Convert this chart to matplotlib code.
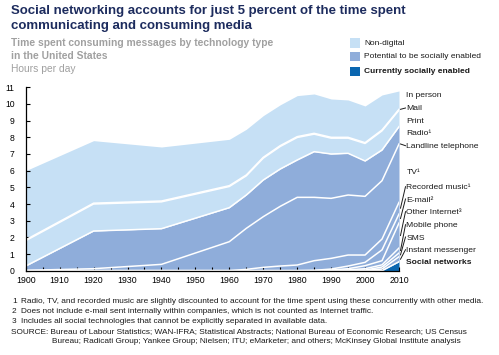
import numpy as np
import matplotlib.pyplot as plt
from matplotlib.patches import Rectangle

plt.rcParams['font.family'] = ['Liberation Sans', 'DejaVu Sans']

# === DATA (hours per day) ===
years = [1900, 1920, 1940, 1960, 1965, 1970, 1975, 1980, 1985, 1990, 1995, 2000, 2005, 2010]

social_networks = [0, 0, 0, 0, 0, 0, 0, 0, 0, 0, 0, 0, 0.0, 0.54]
instant_messenger = [0, 0, 0, 0, 0, 0, 0, 0, 0, 0, 0, 0.02, 0.10, 0.30]
sms = [0, 0, 0, 0, 0, 0, 0, 0, 0, 0, 0, 0.02, 0.12, 0.22]
mobile_phone = [0, 0, 0, 0, 0, 0, 0, 0, 0, 0.02, 0.05, 0.08, 0.13, 0.30]
other_internet = [0, 0, 0, 0, 0, 0, 0, 0, 0, 0.02, 0.07, 0.18, 0.25, 1.50]
email = [0, 0, 0, 0, 0, 0, 0, 0, 0.02, 0.06, 0.16, 0.20, 0.65, 0.54]
recorded_music = [0, 0, 0, 0, 0.08, 0.20, 0.28, 0.34, 0.58, 0.64, 0.66, 0.44, 0.65, 0.70]
tv = [0, 0, 0, 1.29, 1.96, 2.49, 2.98, 3.41, 3.10, 2.90, 2.90, 2.82, 3.00, 3.20]
landline = [0.02, 0.12, 0.38, 0.45, 0.50, 0.55, 0.60, 0.65, 0.70, 0.70, 0.70, 0.70, 0.50, 0.30]
radio = [0.26, 2.26, 2.14, 2.04, 2.00, 2.20, 2.24, 2.24, 2.74, 2.66, 2.50, 2.12, 1.84, 1.04]
print_media = [1.52, 1.62, 1.61, 1.27, 1.15, 1.31, 1.35, 1.35, 1.05, 0.95, 0.91, 1.05, 1.15, 0.99]
mail = [0.05, 0.05, 0.05, 0.05, 0.05, 0.05, 0.05, 0.05, 0.05, 0.05, 0.05, 0.05, 0.05, 0.05]
in_person = [4.15, 3.75, 3.24, 2.78, 2.74, 2.50, 2.45, 2.46, 2.36, 2.30, 2.24, 2.20, 2.10, 1.10]

series = [social_networks, instant_messenger, sms, mobile_phone, other_internet, email,
          recorded_music, tv, landline, radio, print_media, mail, in_person]
labels = ['Social networks', 'Instant messenger', 'SMS', 'Mobile phone', 'Other Internet\u00b3',
          'E-mail\u00b2', 'Recorded music\u00b9', 'TV\u00b9', 'Landline telephone', 'Radio\u00b9',
          'Print', 'Mail', 'In person']
groups = ['cur', 'pot', 'pot', 'pot', 'pot', 'pot', 'pot', 'pot', 'pot', 'pot', 'non', 'non', 'non']

C_NON = '#c6e0f5'
C_POT = '#8fadda'
C_CUR = '#0a66b0'
colours = {'non': C_NON, 'pot': C_POT, 'cur': C_CUR}

W, H = 499, 355
fig = plt.figure(figsize=(W / 100, H / 100), dpi=100)

def fx(px):
    return px / W

def fy(py):
    return 1 - py / H

ax = fig.add_axes([fx(25.7), fy(270.7), fx(399 - 25.7), (270.7 - 87.3) / H])

x = np.array(years)
data = np.array(series)
tops = np.cumsum(data, axis=0)
bottoms = np.vstack([np.zeros(len(x)), tops[:-1]])

# one fill per colour group, so no seams inside a group
for g in ['cur', 'pot', 'non']:
    idx = [i for i, gg in enumerate(groups) if gg == g]
    ax.fill_between(x, bottoms[idx[0]], tops[idx[-1]], color=colours[g], lw=0, zorder=1)

# white separators (TV top sits under the thin landline layer, not drawn)
for i in range(len(series) - 1):
    if labels[i].startswith('TV'):
        continue
    ax.plot(x, tops[i], color='white', lw=1.1, zorder=2, solid_joinstyle='round')

ax.set_xlim(1900, 2010)
ax.set_ylim(0, 11)
ax.spines['top'].set_visible(False)
ax.spines['right'].set_visible(False)
ax.spines['left'].set_linewidth(0.9)
ax.spines['bottom'].set_linewidth(0.9)
ax.set_xticks(range(1900, 2011, 10))
ax.set_xticks(range(1905, 2010, 10), minor=True)
ax.set_yticks(range(0, 12))
ax.tick_params(axis='x', which='both', direction='in', length=3, width=0.8, labelsize=6.3, pad=4)
ax.tick_params(axis='y', direction='in', length=3, width=0.8, labelsize=6.2, pad=8)
for lab in ax.get_yticklabels():
    lab.set_horizontalalignment('right')

# right-hand labels
label_y = {
    'In person': 95.7, 'Mail': 109, 'Print': 121.7, 'Radio\u00b9': 133.3,
    'Landline telephone': 146.7, 'TV\u00b9': 172.3, 'Recorded music\u00b9': 187.7,
    'E-mail\u00b2': 200, 'Other Internet\u00b3': 212.7, 'Mobile phone': 225.7,
    'SMS': 238, 'Instant messenger': 250.7, 'Social networks': 262.7,
}
leader = ['Mail', 'Landline telephone', 'Recorded music\u00b9', 'E-mail\u00b2',
          'Other Internet\u00b3', 'Mobile phone', 'SMS', 'Instant messenger']
for i, name in enumerate(labels):
    ty = label_y[name]
    fig.text(fx(406.5), fy(ty), name, fontsize=6.1, va='center', ha='left',
             color='#1a1a1a', fontweight='bold' if name == 'Social networks' else 'normal')
    if name in leader:
        ymid = (bottoms[i][-1] + tops[i][-1]) / 2
        if name in ('Mail', 'Landline telephone'):
            ymid = tops[i][-1]
        px_end = 270.7 - ymid * (270.7 - 87.3) / 11
        fig.add_artist(plt.Line2D([fx(405.5), fx(400.5)], [fy(ty - 1), fy(px_end)],
                                  color='#1a1a1a', lw=0.7))

# titles
fig.text(fx(11), fy(14.3), 'Social networking accounts for just 5 percent of the time spent',
         fontsize=9.5, fontweight='bold', color='#1d2c5e', va='baseline')
fig.text(fx(11), fy(29.3), 'communicating and consuming media',
         fontsize=9.5, fontweight='bold', color='#1d2c5e', va='baseline')
fig.text(fx(11), fy(45.7), 'Time spent consuming messages by technology type',
         fontsize=7.4, fontweight='bold', color='#a0a0a0', va='baseline')
fig.text(fx(11), fy(59.3), 'in the United States',
         fontsize=7.4, fontweight='bold', color='#a0a0a0', va='baseline')
fig.text(fx(11), fy(71.7), 'Hours per day',
         fontsize=7.4, color='#a0a0a0', va='baseline')

# legend
legend_items = [(C_NON, 'Non-digital', 38.3, 'normal'),
                (C_POT, 'Potential to be socially enabled', 51.7, 'normal'),
                (C_CUR, 'Currently socially enabled', 66.7, 'bold')]
for col, txt, top, wt in legend_items:
    fig.add_artist(Rectangle((fx(350), fy(top + 9.5)), 10 / W, 9.5 / H,
                             facecolor=col, edgecolor='none', transform=fig.transFigure))
    fig.text(fx(364), fy(top + 4.8), txt, fontsize=6, va='center', color='#1a1a1a',
             fontweight=wt)

# footnotes
notes = [
    ('1', 'Radio, TV, and recorded music are slightly discounted to account for the time spent using these concurrently with other media.'),
    ('2', 'Does not include e-mail sent internally within companies, which is not counted as Internet traffic.'),
    ('3', 'Includes all social technologies that cannot be explicitly separated in available data.'),
]
fs_note = 5.93
for k, (num, txt) in enumerate(notes):
    yy = 301.7 + k * 10
    fig.text(fx(12), fy(yy), num, fontsize=fs_note, va='center', color='#1a1a1a')
    fig.text(fx(21), fy(yy), txt, fontsize=fs_note, va='center', color='#1a1a1a')
fig.text(fx(11), fy(331.7), 'SOURCE: Bureau of Labour Statistics; WAN-IFRA; Statistical Abstracts; '
         'National Bureau of Economic Research; US Census', fontsize=fs_note, va='center', color='#1a1a1a')
fig.text(fx(52), fy(341.7), 'Bureau; Radicati Group; Yankee Group; Nielsen; ITU; eMarketer; and others; '
         'McKinsey Global Institute analysis', fontsize=fs_note, va='center', color='#1a1a1a')

fig.savefig('out.png', dpi=100, facecolor='white')
